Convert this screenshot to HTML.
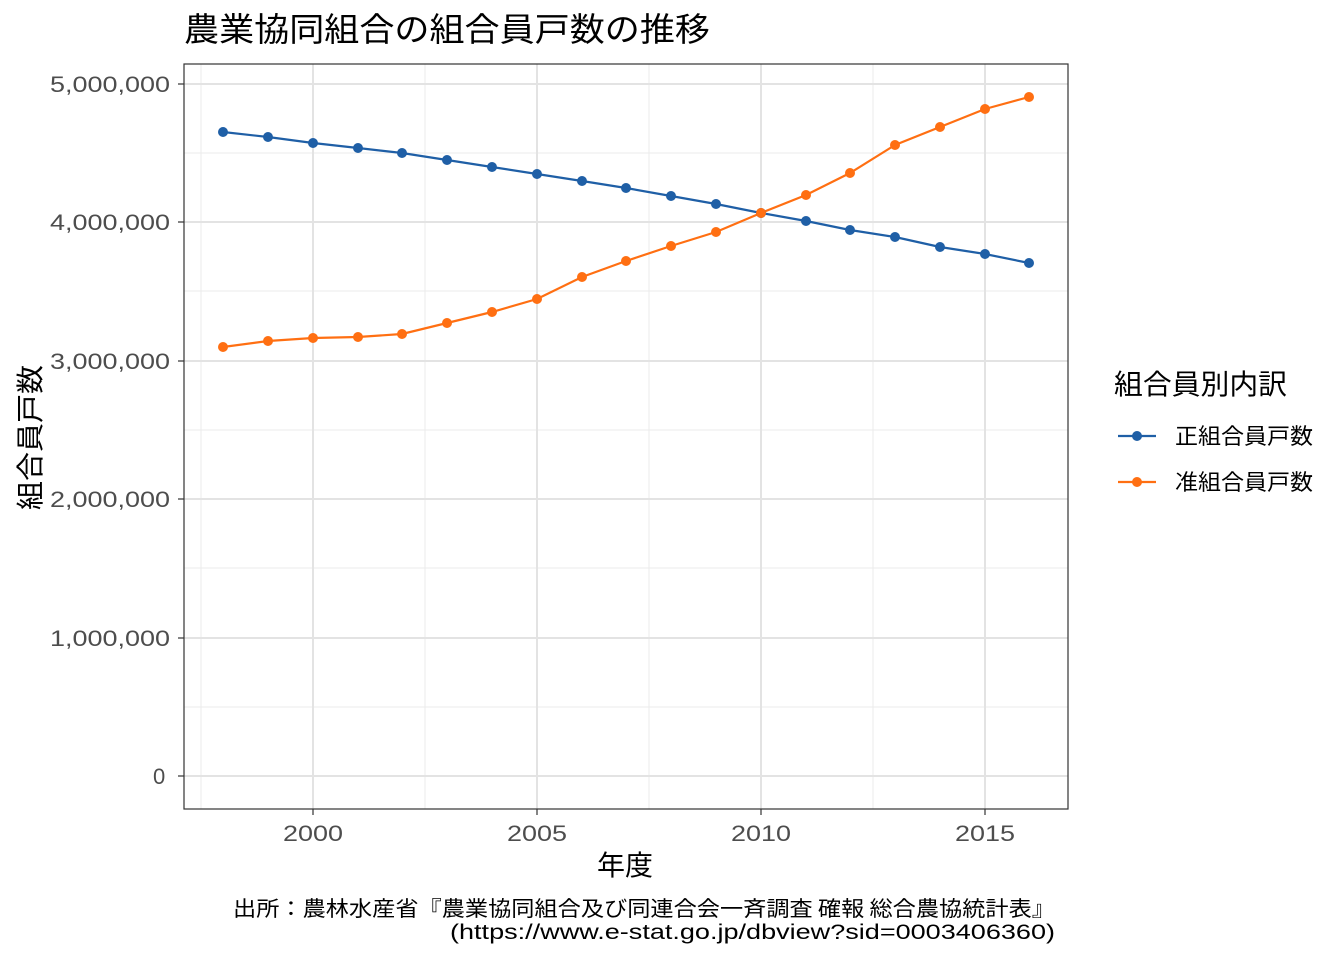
<!DOCTYPE html>
<html><head><meta charset="utf-8"><style>
body{margin:0;background:#fff}
svg text{font-family:"Noto Sans CJK JP","Liberation Sans",sans-serif}
svg text.n{font-family:"Liberation Sans",sans-serif}
</style></head><body>
<svg width="1344" height="960" xmlns="http://www.w3.org/2000/svg">
<rect width="1344" height="960" fill="#fff"/>
<text x="184" y="41" font-size="33" fill="#000" textLength="526" lengthAdjust="spacingAndGlyphs">農業協同組合の組合員戸数の推移</text>
<g stroke="#ebebeb" stroke-width="1">
<line x1="201" y1="64" x2="201" y2="809"/><line x1="425" y1="64" x2="425" y2="809"/>
<line x1="649" y1="64" x2="649" y2="809"/><line x1="873" y1="64" x2="873" y2="809"/>
<line x1="184" y1="707" x2="1068" y2="707"/><line x1="184" y1="568" x2="1068" y2="568"/>
<line x1="184" y1="430" x2="1068" y2="430"/><line x1="184" y1="291" x2="1068" y2="291"/>
<line x1="184" y1="153" x2="1068" y2="153"/>
</g>
<g stroke="#e3e3e3" stroke-width="2">
<line x1="313" y1="64" x2="313" y2="809"/><line x1="537" y1="64" x2="537" y2="809"/>
<line x1="761" y1="64" x2="761" y2="809"/><line x1="985" y1="64" x2="985" y2="809"/>
<line x1="184" y1="776" x2="1068" y2="776"/><line x1="184" y1="638" x2="1068" y2="638"/>
<line x1="184" y1="499" x2="1068" y2="499"/><line x1="184" y1="361" x2="1068" y2="361"/>
<line x1="184" y1="222" x2="1068" y2="222"/><line x1="184" y1="84" x2="1068" y2="84"/>
</g>
<rect x="184" y="64" width="884" height="745" fill="none" stroke="#333" stroke-width="1.2"/>
<g font-size="22" fill="#4d4d4d">
<text class="n" x="153" y="784">0</text>
<text class="n" x="50" y="646" textLength="120" lengthAdjust="spacingAndGlyphs">1,000,000</text>
<text class="n" x="50" y="507" textLength="120" lengthAdjust="spacingAndGlyphs">2,000,000</text>
<text class="n" x="50" y="369" textLength="120" lengthAdjust="spacingAndGlyphs">3,000,000</text>
<text class="n" x="50" y="230" textLength="120" lengthAdjust="spacingAndGlyphs">4,000,000</text>
<text class="n" x="50" y="92" textLength="120" lengthAdjust="spacingAndGlyphs">5,000,000</text>
</g>
<g stroke="#333" stroke-width="1.2">
<line x1="178" y1="776" x2="184" y2="776"/><line x1="178" y1="638" x2="184" y2="638"/><line x1="178" y1="499" x2="184" y2="499"/>
<line x1="178" y1="361" x2="184" y2="361"/><line x1="178" y1="222" x2="184" y2="222"/><line x1="178" y1="84" x2="184" y2="84"/>
<line x1="313" y1="809" x2="313" y2="815"/><line x1="537" y1="809" x2="537" y2="815"/><line x1="761" y1="809" x2="761" y2="815"/><line x1="985" y1="809" x2="985" y2="815"/>
</g>
<g font-size="22" fill="#4d4d4d">
<text class="n" x="283" y="841" textLength="60" lengthAdjust="spacingAndGlyphs">2000</text>
<text class="n" x="507" y="841" textLength="60" lengthAdjust="spacingAndGlyphs">2005</text>
<text class="n" x="731" y="841" textLength="60" lengthAdjust="spacingAndGlyphs">2010</text>
<text class="n" x="955" y="841" textLength="60" lengthAdjust="spacingAndGlyphs">2015</text>
</g>
<text x="597" y="875" font-size="28">年度</text>
<text transform="translate(40,510) rotate(-90)" font-size="28" textLength="145" lengthAdjust="spacingAndGlyphs">組合員戸数</text>
<polyline fill="none" stroke="#1f5fa6" stroke-width="2.2" points="223,132 268,137 313,143 358,148 402,153 447,160 492,167 537,174 582,181 626,188 671,196 716,204 761,213 806,221 850,230 895,237 940,247 985,254 1029,263"/>
<polyline fill="none" stroke="#ff6f12" stroke-width="2.2" points="223,347 268,341 313,338 358,337 402,334 447,323 492,312 537,299 582,277 626,261 671,246 716,232 761,213 806,195 850,173 895,145 940,127 985,109 1029,97"/>
<g fill="#1f5fa6">
<circle cx="223" cy="132" r="5"/><circle cx="268" cy="137" r="5"/><circle cx="313" cy="143" r="5"/><circle cx="358" cy="148" r="5"/><circle cx="402" cy="153" r="5"/><circle cx="447" cy="160" r="5"/><circle cx="492" cy="167" r="5"/><circle cx="537" cy="174" r="5"/><circle cx="582" cy="181" r="5"/><circle cx="626" cy="188" r="5"/><circle cx="671" cy="196" r="5"/><circle cx="716" cy="204" r="5"/><circle cx="761" cy="213" r="5"/><circle cx="806" cy="221" r="5"/><circle cx="850" cy="230" r="5"/><circle cx="895" cy="237" r="5"/><circle cx="940" cy="247" r="5"/><circle cx="985" cy="254" r="5"/><circle cx="1029" cy="263" r="5"/>
</g>
<g fill="#ff6f12">
<circle cx="223" cy="347" r="5"/><circle cx="268" cy="341" r="5"/><circle cx="313" cy="338" r="5"/><circle cx="358" cy="337" r="5"/><circle cx="402" cy="334" r="5"/><circle cx="447" cy="323" r="5"/><circle cx="492" cy="312" r="5"/><circle cx="537" cy="299" r="5"/><circle cx="582" cy="277" r="5"/><circle cx="626" cy="261" r="5"/><circle cx="671" cy="246" r="5"/><circle cx="716" cy="232" r="5"/><circle cx="761" cy="213" r="5"/><circle cx="806" cy="195" r="5"/><circle cx="850" cy="173" r="5"/><circle cx="895" cy="145" r="5"/><circle cx="940" cy="127" r="5"/><circle cx="985" cy="109" r="5"/><circle cx="1029" cy="97" r="5"/>
</g>
<text x="1114" y="394" font-size="28" textLength="173" lengthAdjust="spacingAndGlyphs">組合員別内訳</text>
<line x1="1118" y1="436" x2="1156" y2="436" stroke="#1f5fa6" stroke-width="2.2"/><circle cx="1137" cy="436" r="5" fill="#1f5fa6"/>
<text x="1175" y="444" font-size="22" textLength="138" lengthAdjust="spacingAndGlyphs">正組合員戸数</text>
<line x1="1118" y1="482" x2="1156" y2="482" stroke="#ff6f12" stroke-width="2.2"/><circle cx="1137" cy="482" r="5" fill="#ff6f12"/>
<text x="1175" y="490" font-size="22" textLength="138" lengthAdjust="spacingAndGlyphs">准組合員戸数</text>
<text x="233" y="916" font-size="21" textLength="822" lengthAdjust="spacingAndGlyphs">出所：農林水産省『農業協同組合及び同連合会一斉調査 確報 総合農協統計表』</text>
<text class="n" x="450" y="939" font-size="21" textLength="605" lengthAdjust="spacingAndGlyphs">(https://www.e-stat.go.jp/dbview?sid=0003406360)</text>
</svg>
</body></html>
